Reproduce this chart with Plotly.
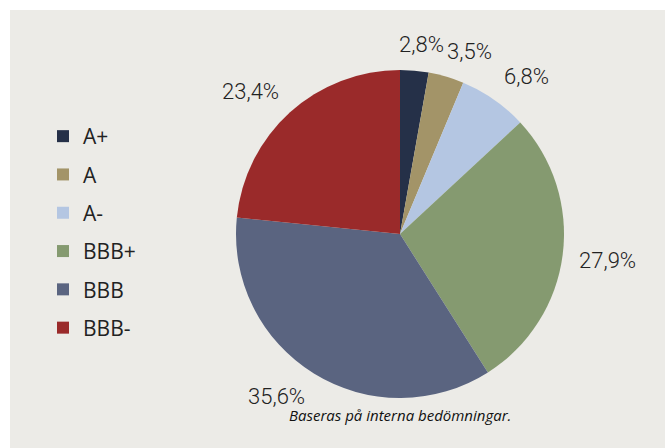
import math
import plotly.graph_objects as go

categories = ["A+", "A", "A-", "BBB+", "BBB", "BBB-"]
values = [2.8, 3.5, 6.8, 27.9, 35.6, 23.4]
colors = ["#253048", "#a39468", "#b4c6e2", "#859a70", "#5a6480", "#9a2a2a"]
caption = "Baseras på interna bedömningar."

W, H = 669, 448
CX, CY, R = 400, 234, 164  # pie centre / radius in px

fig = go.Figure()

fig.add_trace(go.Pie(
    labels=categories, values=values, sort=False, direction="clockwise",
    rotation=0, marker=dict(colors=colors, line=dict(width=0)),
    textinfo="none", showlegend=False, hoverinfo="label+percent",
    domain=dict(x=[(CX - R) / W, (CX + R) / W],
                y=[1 - (CY + R) / H, 1 - (CY - R) / H]),
))

# outside labels positioned from the slice mid-angles
total = sum(values)
cum = 0.0
for v in values:
    mid = (cum + v / 2) / total * 2 * math.pi
    cum += v
    ux, uy = math.sin(mid), -math.cos(mid)
    txt = f"{v / total * 100:.1f}%".replace(".", ",")
    w, h = 11 * len(txt), 16
    rr = R + 18
    fx = max(-1, min(1, 3 * ux))
    fy = max(-1, min(1, 3 * uy))
    dx = rr * ux + w / 2 * fx
    dy = rr * uy + h / 2 * fy
    fig.add_annotation(text=txt, xref="paper", yref="paper",
                       x=CX / W, y=1 - CY / H, xshift=dx, yshift=-dy,
                       showarrow=False, xanchor="center", yanchor="middle",
                       font=dict(family="Roboto", size=22, weight=300,
                                 color="#222222"))

for c, col in zip(categories, colors):
    fig.add_trace(go.Scatter(
        x=[None], y=[None], mode="markers", name=c, legendgroup=c,
        marker=dict(symbol="square", size=12, color=col),
    ))

fig.add_shape(type="rect", xref="paper", yref="paper",
              x0=10 / W, x1=665 / W, y0=0, y1=1 - 10 / H,
              fillcolor="#ecebe7", line=dict(width=0), layer="below")

fig.add_annotation(text="<i>" + caption + "</i>", xref="paper", yref="paper",
                   x=400 / W, y=1 - 427 / H, showarrow=False,
                   font=dict(family="Open Sans", size=15, color="#111111"))

fig.update_layout(
    width=W, height=H, margin=dict(l=0, r=0, t=0, b=0),
    paper_bgcolor="white", plot_bgcolor="rgba(0,0,0,0)",
    xaxis=dict(visible=False), yaxis=dict(visible=False),
    legend=dict(x=43 / W, y=1 - 116 / H, xanchor="left", yanchor="top",
                tracegroupgap=8, itemwidth=30, bgcolor="rgba(0,0,0,0)",
                font=dict(family="Open Sans", size=21, color="#222222")),
)

fig.write_html("out.html", config={"displayModeBar": False},
               post_script="document.body.style.margin='0px';")
